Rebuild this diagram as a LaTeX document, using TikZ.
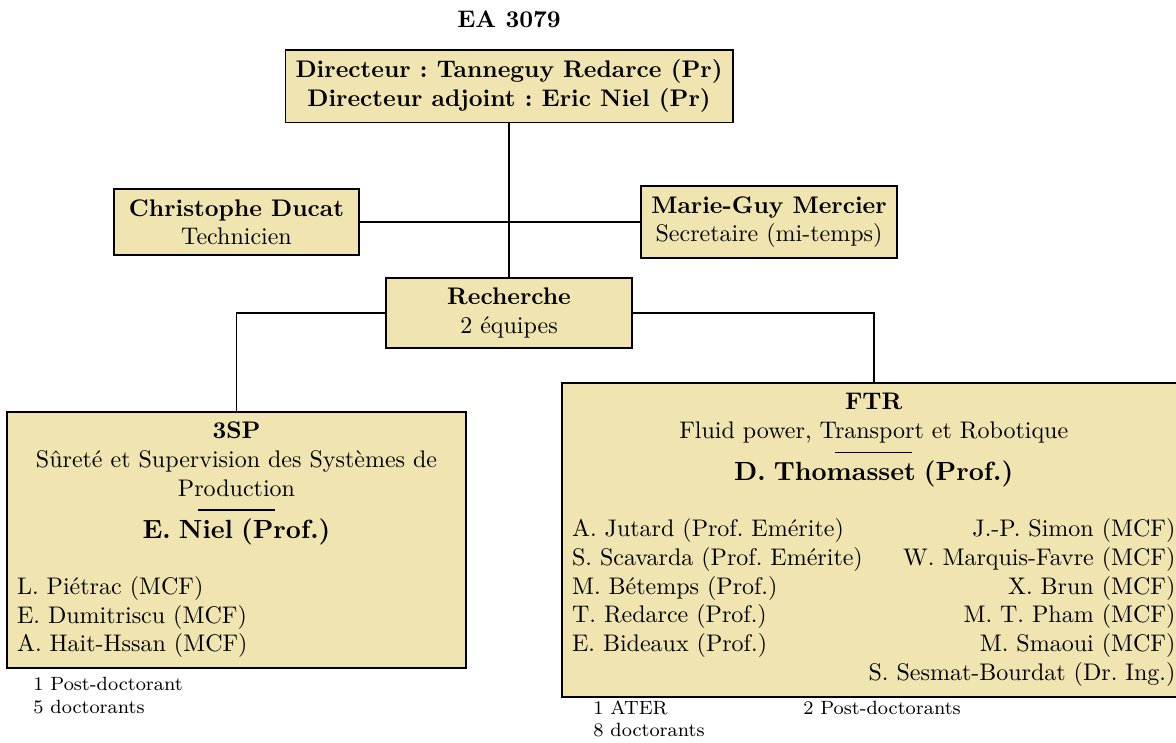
\documentclass[tikz,border=0pt]{standalone}
\usepackage{tikz}
\usetikzlibrary{calc}
\definecolor{boxtan}{RGB}{240,228,176}
\newcommand{\teamhead}[1]{{\fontsize{10.95pt}{13.6pt}\selectfont\bfseries #1}}
\frenchspacing

\begin{document}
\begin{tikzpicture}[
    box/.style={draw,thick,fill=boxtan,inner sep=4.2pt,align=center,minimum width=3.6cm},
    team/.style={draw,thick,fill=boxtan,inner sep=4.2pt},
    link/.style={thick},
    note/.style={anchor=north west,inner sep=0pt,font=\footnotesize}]
    \useasboundingbox (0,0) rectangle (17.228,-10.87);
    \node[anchor=base,font=\bfseries] (ea) at (7.457,-0.4) {EA 3079};
    \node[box,font=\bfseries] (dir) at (7.457,-1.26)
      {Directeur : Tanneguy Redarce (Pr)\\ Directeur adjoint : Eric Niel (Pr)};
    \node[box] (tech) at (3.465,-3.255) {\textbf{Christophe Ducat}\\ Technicien};
    \node[box] (sec) at (11.266,-3.255) {\textbf{Marie-Guy Mercier}\\ Secretaire (mi-temps)};
    \node[box] (rech) at (7.457,-4.585) {\textbf{Recherche}\\ 2 équipes};
    \node[team,text width=6.43cm] (sp) at (3.465,-7.911) {%
      \centering\textbf{3SP}\\
      Sûreté et Supervision des Systèmes de Production\\[-6pt]
      \rule{32pt}{0.6pt}\\[-0.5pt]
      \teamhead{E. Niel (Prof.)}\par
      \vspace{11.3pt}
      \raggedright L. Piétrac (MCF)\\
      E. Dumitriscu (MCF)\\
      A. Hait-Hssan (MCF)\par};
    \node[team,text width=8.84cm] (ftr) at (12.8,-7.911) {%
      \centering\textbf{FTR}\\
      Fluid power, Transport et Robotique\\[-6pt]
      \rule{32pt}{0.6pt}\\[-0.5pt]
      \teamhead{D. Thomasset (Prof.)}\par
      \vspace{11.3pt}
      \raggedright A. Jutard (Prof. Emérite)\hfill J.-P. Simon (MCF)\\
      S. Scavarda (Prof. Emérite)\hfill W. Marquis-Favre (MCF)\\
      M. Bétemps (Prof.)\hfill X. Brun (MCF)\\
      T. Redarce (Prof.)\hfill M. T. Pham (MCF)\\
      E. Bideaux (Prof.)\hfill M. Smaoui (MCF)\\
      \mbox{}\hfill S. Sesmat-Bourdat (Dr. Ing.)\par};
    \node[note] (spnote) at (0.483,-9.874)
      {\begin{tabular}{@{}l@{}}1 Post-doctorant\\ 5 doctorants\end{tabular}};
    \node[note] (ftrnote) at (8.687,-10.22)
      {\begin{tabular}{@{}p{87.5pt}@{}l@{}}1 ATER & 2 Post-doctorants\\ 8 doctorants\end{tabular}};
    \draw[link] (dir) -- (rech);
    \draw[link] (tech) -- (sec);
    \draw[link] (rech.west) -| (sp.north);
    \draw[link] (rech.east) -| (ftr.north);
  \end{tikzpicture}
\end{document}
